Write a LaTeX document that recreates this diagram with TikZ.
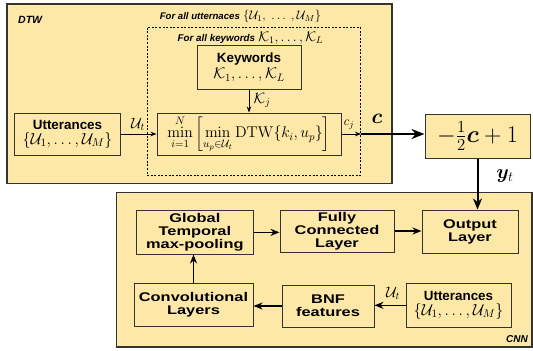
\documentclass[tikz,border=0pt]{standalone}
\usepackage{fix-cm}
\usepackage{amsmath,bm}
\usepackage[no-math]{fontspec}
\newfontfamily\hv{Liberation Sans}
\newfontfamily\hvw{Liberation Sans}[FakeStretch=1.3]
\usetikzlibrary{arrows.meta}
\definecolor{boxfill}{HTML}{FDE8A8}
\definecolor{edgecol}{HTML}{333333}
\newcommand\fsz[2]{\fontsize{#1bp}{#2bp}\selectfont}
\begin{document}
\begin{tikzpicture}[x=1bp,y=-1bp,
  box/.style={draw=edgecol,fill=boxfill,line width=1bp,inner sep=0pt,align=center},
  outerbox/.style={draw=edgecol,fill=boxfill,line width=1.4bp,inner sep=0pt},
  dashbox/.style={draw=black,line width=1bp,dash pattern=on 2bp off 1.6bp,inner sep=0pt},
  lab/.style={inner sep=0pt},
  thin arrow/.style={line width=0.8bp,-{Stealth[length=6bp,width=4.5bp]}},
  cnn arrow/.style={line width=1.6bp,-{Stealth[length=9bp,width=7bp]}},
  big arrow/.style={line width=2.6bp,-{Stealth[length=13bp,width=10bp]}},
  mid arrow/.style={line width=2bp,-{Stealth[length=11bp,width=9bp]}},
  widelab/.style={font=\hvw\bfseries\fsz{12.6}{13}}
]
\useasboundingbox (0,0) rectangle (533,350);

% DTW part
\node[outerbox, minimum width=385bp, minimum height=179.5bp] (dtw) at (199.5,93.75) {};
\node[lab, anchor=west] (dtwlab) at (18,19.5) {\hv\bfseries\itshape\fsz{10.5}{11}DTW};
\node[dashbox, minimum width=213.5bp, minimum height=148.5bp] (dash) at (253.75,101.25) {};
\node[lab] (forU) at (240.5,16) {{\hv\bfseries\itshape\fsz{9.6}{10}For all utternaces} {\fsz{12.5}{12.5}$\{\mathcal{U}_1,\;\ldots\;,\mathcal{U}_M\}$}};
\node[lab] (forK) at (250.5,38) {{\hv\bfseries\itshape\fsz{9.8}{10}For all keywords} {\fsz{14}{14}$\mathcal{K}_1,\ldots,\mathcal{K}_L$}};

\node[box, minimum width=104bp, minimum height=44.5bp] (kw) at (249,67.25)
  {{\hv\bfseries\fsz{13.4}{15}Keywords}\\[2bp]{\fsz{15.5}{15}$\mathcal{K}_1,\ldots,\mathcal{K}_L$}};
\node[box, minimum width=184bp, minimum height=42bp] (minb) at (249,134)
  {\fsz{15.6}{16}$\displaystyle\min_{i=1}^{N}\left[\min_{u_p\in\mathcal{U}_t}\mathrm{DTW}\{k_i,u_p\}\right]$};
\node[box, minimum width=105bp, minimum height=42bp] (utt1) at (67.5,134)
  {{\hv\bfseries\fsz{13.4}{15}Utterances}\\[2bp]{\fsz{16}{16}$\{\mathcal{U}_1,\ldots,\mathcal{U}_M\}$}};

\draw[thin arrow] (utt1.east) -- (minb.west);
\node[lab] (ut1lab) at (138,124.5) {\fsz{15}{15}$\mathcal{U}_t$};
\draw[thin arrow] (kw.south) -- (minb.north);
\node[lab] (kjlab) at (262,100.5) {\fsz{15}{15}$\mathcal{K}_j$};
\coordinate (cjend) at (minb.east -| dash.east);
\draw[thin arrow] (minb.east) -- (cjend);
\node[lab] (cjlab) at (349,124.5) {\fsz{13}{13}$c_j$};

% formula box
\node[box, minimum width=105bp, minimum height=44bp] (fbox) at (477.5,136.3)
  {\fsz{24}{24}$-\frac{1}{2}\bm{c}+1$};
\draw[big arrow] (cjend) -- (cjend -| fbox.west);
\node[lab] (clab) at (377,119) {\fsz{21}{21}$\bm{c}$};

% CNN part
\node[outerbox, minimum width=415.3bp, minimum height=154.3bp] (cnn) at (324.35,269.85) {};
\node[lab, anchor=south east] (cnnlab) at (528,343) {\hv\bfseries\itshape\fsz{10}{10}CNN};

\node[box, widelab, minimum width=116.3bp, minimum height=43.3bp] (glob) at (194.85,232.35) {Global\\Temporal\\max-pooling};
\node[box, widelab, minimum width=114bp, minimum height=42bp] (fully) at (337,231) {Fully\\Connected\\Layer};
\node[box, widelab, minimum width=96bp, minimum height=43bp] (outl) at (470,231.5) {Output\\Layer};
\node[box, widelab, minimum width=119bp, minimum height=43bp] (conv) at (193.5,304.5) {Convolutional\\Layers};
\node[box, widelab, minimum width=92bp, minimum height=42bp] (bnf) at (328,306) {BNF\\features};
\node[box, minimum width=105bp, minimum height=44bp] (utt2) at (458.5,305.3)
  {{\hv\bfseries\fsz{13.4}{15}Utterances}\\[2bp]{\fsz{16}{16}$\{\mathcal{U}_1,\ldots,\mathcal{U}_M\}$}};

\draw[mid arrow] (fbox.south) -- (fbox.south |- outl.north);
\node[lab] (ytlab) at (505,176) {\fsz{20}{20}$\bm{y}_t$};

\draw[cnn arrow] (glob.east) -- (glob.east -| fully.west);
\draw[cnn arrow] (fully.east) -- (fully.east -| outl.west);
\draw[cnn arrow] (conv.north) -- (conv.north |- glob.south);
\draw[cnn arrow] (bnf.west) -- (bnf.west -| conv.east);
\draw[cnn arrow] (utt2.west) -- (utt2.west -| bnf.east);
\node[lab] (ut2lab) at (393,293) {\fsz{15}{15}$\mathcal{U}_t$};
\end{tikzpicture}
\end{document}
